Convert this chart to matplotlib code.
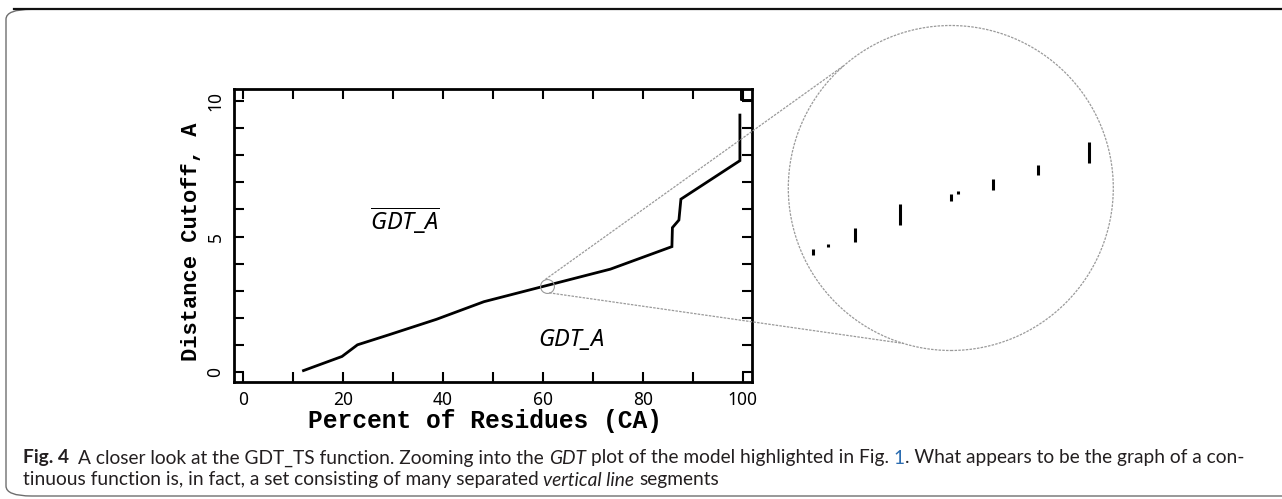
import numpy as np
import matplotlib
matplotlib.use("Agg")
import matplotlib.pyplot as plt
from matplotlib.patches import Circle, FancyBboxPatch
from matplotlib.lines import Line2D
from matplotlib.ticker import FixedLocator

# ---------------- data ----------------
percent = [12.1, 19.8, 22.9, 29.2, 38.7, 48.2, 60.0, 73.5, 85.8, 85.9, 87.2, 87.6, 99.4, 99.4]
cutoff = [0.06, 0.58, 1.01, 1.38, 1.95, 2.60, 3.16, 3.80, 4.63, 5.33, 5.61, 6.38, 7.80, 9.48]
# short piece of the curve visible in the upper right corner
tail_percent = [99.6, 99.6, 102.5]
tail_cutoff = [10.6, 10.05, 10.05]

# magnified vertical segments (percent, low cutoff, high cutoff)
zoom_x = [59.61, 59.74, 59.97, 60.36, 60.80, 60.86, 61.16, 61.55, 61.99]
zoom_lo = [3.063, 3.076, 3.085, 3.111, 3.149, 3.160, 3.167, 3.190, 3.209]
zoom_hi = [3.073, 3.081, 3.106, 3.145, 3.160, 3.166, 3.185, 3.207, 3.243]
zoom_center = [60.8, 3.17]

x_ticks = [0, 20, 40, 60, 80, 100]
x_ticklabels = ["0", "20", "40", "60", "80", "100"]
x_minor = [10, 30, 50, 70, 90]
y_ticks = [0, 5, 10]
y_ticklabels = ["0", "5", "10"]
y_minor = [1, 2, 3, 4, 6, 7, 8, 9]

# ---------------- figure ----------------
W, H = 1282, 499
fig = plt.figure(figsize=(W / 100, H / 100), dpi=100)
fig.patch.set_facecolor("white")

def fx(px):
    return px / W

def fy(py):
    return 1 - py / H

# main axes
L, R, T, B = 234.3, 751.9, 89.3, 381.7
ax = fig.add_axes([fx(L), fy(B), (R - L) / W, (B - T) / H])
ax.plot(percent, cutoff, color="black", lw=2.0, solid_joinstyle="miter")
ax.plot(tail_percent, tail_cutoff, color="black", lw=1.4)
ax.set_xlim(-1.74, 101.8)
ax.set_ylim(-0.35, 10.43)
ax.xaxis.set_major_locator(FixedLocator(x_ticks))
ax.set_xticklabels(x_ticklabels)
ax.xaxis.set_minor_locator(FixedLocator(x_minor))
ax.yaxis.set_major_locator(FixedLocator(y_ticks))
ax.set_yticklabels(y_ticklabels, rotation=90, va="center")
ax.yaxis.set_minor_locator(FixedLocator(y_minor))
ax.tick_params(which="both", direction="in", top=True, right=True,
               length=7, width=1.5, color="black")
ax.tick_params(axis="x", which="major", pad=7, labelsize=12.5)
ax.tick_params(axis="y", which="major", pad=7, labelsize=12.5)
for lab in ax.get_xticklabels() + ax.get_yticklabels():
    lab.set_family("Noto Sans")
for s in ax.spines.values():
    s.set_linewidth(2.0)

fig.text(fx(485), fy(421), "Percent of Residues (CA)", ha="center", va="center",
         family="Liberation Mono", weight="bold", fontsize=17.7)
fig.text(fx(191.6), fy(241.5), "Distance Cutoff, A", ha="center", va="center",
         rotation=90, family="Liberation Mono", weight="bold", fontsize=15.8)

plt.rcParams["mathtext.fontset"] = "custom"
plt.rcParams["mathtext.it"] = "Noto Sans:italic"
plt.rcParams["mathtext.rm"] = "Noto Sans"
ax.text(32.4, 5.58, r"$\overline{\mathit{GDT\_A}}$", ha="center", va="center", fontsize=17)
ax.text(65.6, 1.19, "GDT_A", ha="center", va="center", fontsize=17,
        family="Noto Sans", style="italic")

# small circle on the curve
gray = "#9a9a9a"
ax.plot([zoom_center[0]], [zoom_center[1]], marker="o", ms=10, mfc="none",
        mec=gray, mew=0.8)

# inset (magnified view)
cx, cy, rbig, half = 950.8, 188.0, 162.5, 165.0
ins = fig.add_axes([fx(cx - half), fy(cy + half), 2 * half / W, 2 * half / H])
ins.set_axis_off()
sx, sy = 116.0, 630.0  # px per data unit in inset
ins.set_xlim(zoom_center[0] - half / sx, zoom_center[0] + half / sx)
ins.set_ylim(zoom_center[1] - half / sy, zoom_center[1] + half / sy)
ins.vlines(zoom_x, zoom_lo, zoom_hi, color="black", lw=2.2)
ins.add_patch(Circle((0.5, 0.5), rbig / (2 * half), transform=ins.transAxes,
                     fill=False, ec=gray, lw=0.9, ls=(0, (2, 1))))

# connector lines
small_c = ax.transData.transform(zoom_center)
big_c = ins.transAxes.transform((0.5, 0.5))
rs = 7.0
to_fig = fig.transFigure.inverted()
for a_small, a_big in [(103, 131), (289, 253)]:
    p1 = small_c + rs * np.array([np.cos(np.radians(a_small)), np.sin(np.radians(a_small))])
    p2 = big_c + rbig * np.array([np.cos(np.radians(a_big)), np.sin(np.radians(a_big))])
    q1, q2 = to_fig.transform(p1), to_fig.transform(p2)
    fig.add_artist(Line2D([q1[0], q2[0]], [q1[1], q2[1]], transform=fig.transFigure,
                          color=gray, lw=0.9, ls=(0, (2, 1))))

# frame
fig.add_artist(FancyBboxPatch((fx(6), fy(496)), fx(1400), fy(9.3) - fy(496),
                              boxstyle="round,pad=0,rounding_size=0.02",
                              transform=fig.transFigure, fill=False,
                              ec="#6e6e6e", lw=1.0, clip_on=False))
fig.add_artist(Line2D([fx(14), 1.0], [fy(9.3), fy(9.3)], transform=fig.transFigure,
                      color="#111111", lw=1.6))

# caption
renderer = fig.canvas.get_renderer()
lines = [
    [("Fig. 4", "bold", "normal", "#231f20"),
     ("  A closer look at the GDT_TS function. Zooming into the ", "normal", "normal", "#231f20"),
     ("GDT", "normal", "italic", "#231f20"),
     (" plot of the model highlighted in Fig. ", "normal", "normal", "#231f20"),
     ("1", "normal", "normal", "#2b6cb0"),
     (". What appears to be the graph of a con-", "normal", "normal", "#231f20")],
    [("tinuous function is, in fact, a set consisting of many separated ", "normal", "normal", "#231f20"),
     ("vertical line", "normal", "italic", "#231f20"),
     (" segments", "normal", "normal", "#231f20")],
]
cap_font = "Lato"
baselines = [463.5, 485.5]
x0, target_end = 22.7, 1247.0

def place(line, size, base, draw=True):
    tmp = fig.text(0, 0, "a a", fontsize=size, family=cap_font)
    w1 = tmp.get_window_extent(renderer).width
    tmp.set_text("aa")
    sp = w1 - tmp.get_window_extent(renderer).width
    tmp.remove()
    xc = x0
    arts = []
    for s, wgt, sty, col in line:
        lead = len(s) - len(s.lstrip(" "))
        trail = len(s) - len(s.rstrip(" "))
        xc += lead * sp
        t = fig.text(fx(xc), fy(base), s.strip(" "), fontsize=size, family=cap_font,
                     weight=wgt, style=sty, color=col, va="baseline", ha="left")
        xc = t.get_window_extent(renderer).x1 + trail * sp
        arts.append(t)
    if not draw:
        for t in arts:
            t.remove()
    return xc

nat = place(lines[0], 11, baselines[0], draw=False)
cap_size = 11 * (target_end - x0) / (nat - x0)
for line, base in zip(lines, baselines):
    place(line, cap_size, base)

fig.savefig("out.png", dpi=100)
